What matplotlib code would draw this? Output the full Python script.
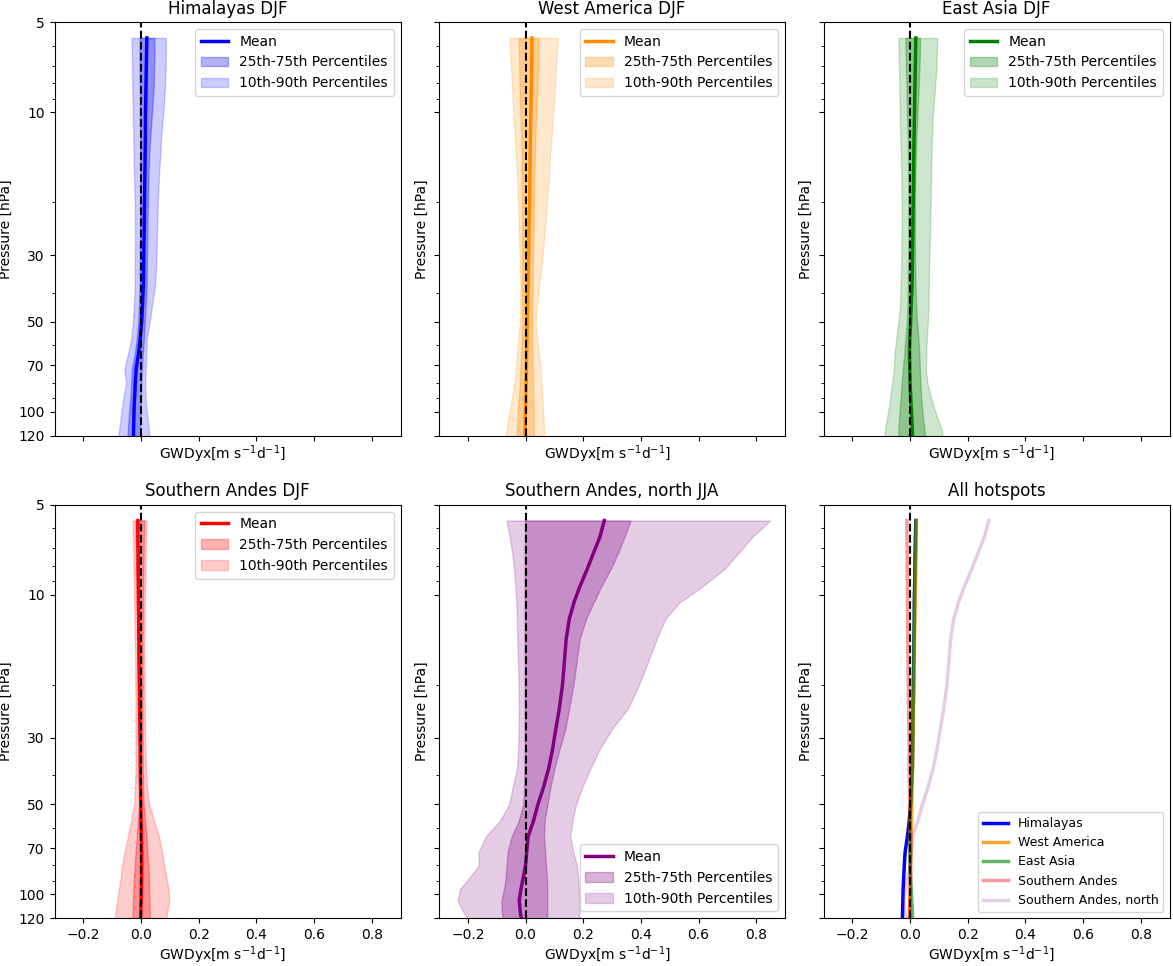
import matplotlib
matplotlib.use("Agg")
import matplotlib.pyplot as plt
from matplotlib.ticker import NullFormatter, FixedLocator, FixedFormatter
import numpy as np

# Pressure levels [hPa]
pressure = [5.65, 6.4, 7.2, 8.2, 9.4, 10.6, 12, 14, 17, 20, 24, 28, 33, 38, 44,
            50, 57, 64, 72, 80, 88, 96, 105, 115, 125]

# Himalayas DJF
him_mean = [0.020, 0.019, 0.018, 0.017, 0.016, 0.015, 0.015, 0.014, 0.013, 0.012, 0.011, 0.010, 0.009, 0.008, 0.005,
            0.002, -0.003, -0.009, -0.017, -0.020, -0.022, -0.024, -0.025, -0.026, -0.027]
him_p25 = [-0.005, -0.005, -0.005, -0.004, -0.004, -0.004, -0.003, -0.003, -0.003, -0.003, -0.003, -0.004, -0.004, -0.005, -0.007,
           -0.010, -0.015, -0.022, -0.032, -0.034, -0.036, -0.040, -0.043, -0.046, -0.048]
him_p75 = [0.046, 0.046, 0.045, 0.044, 0.040, 0.036, 0.032, 0.028, 0.025, 0.024, 0.022, 0.021, 0.020, 0.019, 0.016,
           0.013, 0.010, 0.006, 0.003, 0.001, 0.000, -0.001, -0.002, -0.003, -0.003]
him_p10 = [-0.033, -0.032, -0.031, -0.030, -0.029, -0.028, -0.027, -0.026, -0.024, -0.022, -0.021, -0.021, -0.022, -0.022, -0.025,
           -0.028, -0.034, -0.045, -0.058, -0.052, -0.060, -0.066, -0.071, -0.076, -0.080]
him_p90 = [0.086, 0.086, 0.085, 0.083, 0.079, 0.075, 0.070, 0.066, 0.061, 0.058, 0.056, 0.054, 0.052, 0.048, 0.038,
           0.030, 0.020, 0.018, 0.016, 0.014, 0.015, 0.018, 0.022, 0.027, 0.030]

# West America DJF
wam_mean = [0.022, 0.022, 0.021, 0.020, 0.019, 0.018, 0.017, 0.016, 0.015, 0.014, 0.012, 0.011, 0.010, 0.009, 0.007,
            0.006, 0.005, 0.004, 0.003, 0.002, 0.001, 0.000, -0.001, -0.002, -0.002]
wam_p25 = [-0.024, -0.023, -0.022, -0.021, -0.019, -0.017, -0.015, -0.014, -0.013, -0.012, -0.012, -0.012, -0.012, -0.012, -0.012,
           -0.012, -0.013, -0.015, -0.018, -0.020, -0.023, -0.026, -0.028, -0.030, -0.030]
wam_p75 = [0.045, 0.044, 0.043, 0.041, 0.038, 0.036, 0.034, 0.032, 0.030, 0.029, 0.028, 0.027, 0.026, 0.025, 0.024,
           0.023, 0.023, 0.024, 0.025, 0.026, 0.027, 0.028, 0.028, 0.028, 0.028]
wam_p10 = [-0.055, -0.053, -0.050, -0.047, -0.044, -0.041, -0.037, -0.033, -0.029, -0.026, -0.024, -0.022, -0.020, -0.018, -0.018,
           -0.020, -0.025, -0.030, -0.034, -0.039, -0.045, -0.052, -0.060, -0.066, -0.070]
wam_p90 = [0.112, 0.108, 0.105, 0.102, 0.098, 0.094, 0.090, 0.085, 0.080, 0.074, 0.068, 0.062, 0.055, 0.046, 0.040,
           0.035, 0.040, 0.046, 0.052, 0.055, 0.058, 0.060, 0.062, 0.064, 0.065]

# East Asia DJF
eas_mean = [0.020, 0.019, 0.018, 0.017, 0.016, 0.015, 0.014, 0.013, 0.012, 0.011, 0.010, 0.009, 0.008, 0.007, 0.004,
            0.002, -0.001, -0.002, -0.001, 0.000, 0.002, 0.004, 0.006, 0.008, 0.009]
eas_p25 = [-0.016, -0.015, -0.014, -0.012, -0.011, -0.010, -0.008, -0.007, -0.006, -0.006, -0.006, -0.006, -0.007, -0.008, -0.009,
           -0.011, -0.016, -0.020, -0.025, -0.029, -0.032, -0.035, -0.038, -0.040, -0.041]
eas_p75 = [0.035, 0.034, 0.032, 0.030, 0.027, 0.025, 0.022, 0.020, 0.018, 0.017, 0.017, 0.017, 0.018, 0.019, 0.021,
           0.024, 0.029, 0.032, 0.034, 0.036, 0.038, 0.041, 0.045, 0.050, 0.053]
eas_p10 = [-0.040, -0.039, -0.038, -0.037, -0.036, -0.035, -0.034, -0.032, -0.030, -0.029, -0.029, -0.030, -0.031, -0.033, -0.035,
           -0.040, -0.048, -0.054, -0.056, -0.062, -0.068, -0.073, -0.080, -0.087, -0.090]
eas_p90 = [0.094, 0.093, 0.091, 0.087, 0.082, 0.078, 0.076, 0.074, 0.073, 0.071, 0.070, 0.068, 0.066, 0.065, 0.064,
           0.062, 0.058, 0.056, 0.055, 0.060, 0.070, 0.082, 0.095, 0.110, 0.115]

# Southern Andes DJF
san_mean = [-0.011, -0.011, -0.010, -0.010, -0.009, -0.009, -0.008, -0.008, -0.007, -0.006, -0.005, -0.004, -0.003, -0.003, -0.002,
            -0.001, 0.000, 0.001, 0.002, 0.002, 0.002, 0.001, 0.000, -0.001, -0.002]
san_p25 = [-0.020, -0.019, -0.018, -0.017, -0.016, -0.015, -0.014, -0.012, -0.011, -0.010, -0.009, -0.008, -0.007, -0.006, -0.006,
           -0.007, -0.011, -0.015, -0.019, -0.022, -0.025, -0.027, -0.028, -0.029, -0.030]
san_p75 = [0.011, 0.010, 0.009, 0.008, 0.007, 0.006, 0.006, 0.005, 0.005, 0.005, 0.005, 0.005, 0.006, 0.006, 0.007,
           0.009, 0.014, 0.019, 0.022, 0.025, 0.027, 0.028, 0.029, 0.030, 0.030]
san_p10 = [-0.029, -0.028, -0.027, -0.026, -0.025, -0.024, -0.023, -0.022, -0.020, -0.020, -0.019, -0.019, -0.019, -0.019, -0.021,
           -0.024, -0.035, -0.046, -0.057, -0.066, -0.071, -0.077, -0.083, -0.089, -0.092]
san_p90 = [0.018, 0.017, 0.016, 0.015, 0.014, 0.013, 0.012, 0.011, 0.011, 0.012, 0.013, 0.014, 0.015, 0.017, 0.021,
           0.028, 0.045, 0.062, 0.072, 0.080, 0.088, 0.095, 0.098, 0.090, 0.085]

# Southern Andes, north JJA
sann_mean = [0.273, 0.258, 0.237, 0.214, 0.188, 0.168, 0.152, 0.141, 0.134, 0.128, 0.117, 0.105, 0.093, 0.080, 0.062,
             0.043, 0.027, 0.009, 0.004, 0.000, -0.008, -0.016, -0.022, -0.018, -0.012]
sann_p25 = [-0.002, -0.002, -0.003, -0.003, -0.003, -0.003, -0.003, -0.003, -0.003, -0.003, -0.003, -0.003, -0.003, -0.004, -0.005,
            -0.008, -0.024, -0.048, -0.062, -0.066, -0.069, -0.075, -0.084, -0.082, -0.078]
sann_p75 = [0.364, 0.343, 0.322, 0.295, 0.262, 0.236, 0.210, 0.188, 0.176, 0.166, 0.151, 0.138, 0.117, 0.100, 0.086,
            0.076, 0.066, 0.064, 0.068, 0.071, 0.074, 0.075, 0.075, 0.075, 0.075]
sann_p10 = [-0.066, -0.055, -0.047, -0.040, -0.035, -0.032, -0.030, -0.029, -0.026, -0.024, -0.023, -0.024, -0.026, -0.030, -0.045,
            -0.057, -0.090, -0.138, -0.163, -0.162, -0.195, -0.228, -0.236, -0.215, -0.190]
sann_p90 = [0.848, 0.787, 0.741, 0.690, 0.612, 0.534, 0.485, 0.455, 0.422, 0.393, 0.355, 0.300, 0.255, 0.225, 0.196,
            0.175, 0.162, 0.155, 0.165, 0.178, 0.182, 0.185, 0.186, 0.187, 0.187]

titles = ["Himalayas DJF", "West America DJF", "East Asia DJF",
          "Southern Andes DJF", "Southern Andes, north JJA"]
names = ["Himalayas", "West America", "East Asia", "Southern Andes", "Southern Andes, north"]
colors = ["blue", "darkorange", "green", "red", "purple"]
means = [him_mean, wam_mean, eas_mean, san_mean, sann_mean]
p25s = [him_p25, wam_p25, eas_p25, san_p25, sann_p25]
p75s = [him_p75, wam_p75, eas_p75, san_p75, sann_p75]
p10s = [him_p10, wam_p10, eas_p10, san_p10, sann_p10]
p90s = [him_p90, wam_p90, eas_p90, san_p90, sann_p90]
legend_locs = ["upper right", "upper right", "upper right", "upper right", "lower right"]
all_alphas = [1.0, 0.8, 0.6, 0.4, 0.2]

yticks = [5, 10, 30, 50, 70, 100, 120]
xlabel = r"GWDyx[m s$^{-1}$d$^{-1}$]   "

fig, axes = plt.subplots(2, 3, figsize=(11.73, 9.66), dpi=100, sharex=True, sharey=True)
fig.subplots_adjust(left=0.0465, right=0.9971, top=0.9772, bottom=0.0495,
                    wspace=0.111, hspace=0.167)
axs = axes.ravel()

for i in range(5):
    ax = axs[i]
    c = colors[i]
    ax.plot(means[i], pressure, color=c, lw=2.5, label="Mean")
    ax.fill_betweenx(pressure, p25s[i], p75s[i], color=c, alpha=0.3, label="25th-75th Percentiles")
    ax.fill_betweenx(pressure, p10s[i], p90s[i], color=c, alpha=0.2, label="10th-90th Percentiles")
    ax.axvline(0, color="k", ls="--", lw=1.5, zorder=5)
    ax.set_title(titles[i], fontsize=12)
    ax.legend(loc=legend_locs[i], fontsize=10)

ax = axs[5]
for i in range(5):
    ax.plot(means[i], pressure, color=colors[i], lw=2.5, alpha=all_alphas[i], label=names[i])
ax.axvline(0, color="k", ls="--", lw=1.5, zorder=5)
ax.set_title("All hotspots", fontsize=12)
ax.legend(loc="lower right", fontsize=9)

for ax in axs:
    ax.set_yscale("log")
    ax.set_ylim(120, 5)
    ax.set_xlim(-0.3, 0.9)
    ax.yaxis.set_major_locator(FixedLocator(yticks))
    ax.yaxis.set_major_formatter(FixedFormatter([str(t) for t in yticks]))
    ax.yaxis.set_minor_formatter(NullFormatter())
    ax.set_xticks([-0.2, 0.0, 0.2, 0.4, 0.6, 0.8])
    ax.set_ylabel("Pressure [hPa]")
    ax.set_xlabel(xlabel, labelpad=2)
    ax.xaxis.set_tick_params(labelbottom=ax in axes[1])

fig.savefig("out.png", dpi=100)
